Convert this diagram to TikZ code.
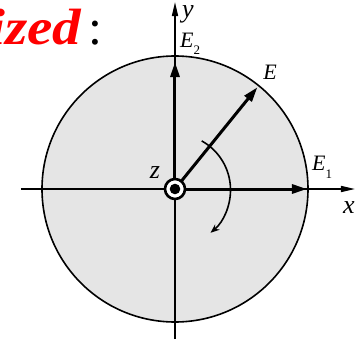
\documentclass[tikz,border=0pt]{standalone}
\usepackage{fontspec}
\setmainfont{Liberation Serif}
\usetikzlibrary{arrows.meta}
\begin{document}
\begin{tikzpicture}[x=1pt,y=-1pt,
  axis/.style={line width=1.6pt,-{Triangle[length=14pt,width=6pt]}},
  vec/.style={line width=3pt,-{Triangle[length=15pt,width=9pt]}},
  lbl/.style={inner sep=0pt,font=\fontsize{22}{22}\selectfont\itshape},
  lcl/.style={inner sep=0pt,font=\fontsize{26}{26}\selectfont\itshape}
]
\useasboundingbox (0,0) rectangle (360,341);
\coordinate (O) at (175,189);
\fill[black!10] (O) circle (133pt);
\draw[line width=1.6pt] (O) circle (133pt);
% axes
\coordinate (xl) at (21,189);
\coordinate (xr) at (355,189);
\coordinate (yb) at (175,339);
\coordinate (yt) at (175,2);
\draw[axis] (xl) -- (xr);
\draw[axis] (yb) -- (yt);
% vectors
\coordinate (E1tip) at (307,189);
\coordinate (E2tip) at (175,62);
\coordinate (Etip) at ([shift={(51:131pt)}]O);
\draw[vec] (O) -- (E1tip);
\draw[vec] (O) -- (E2tip);
\draw[vec] (O) -- (Etip);
% rotation arc
\coordinate (arcS) at ([shift={(61:55pt)}]O);
\draw[line width=1.6pt,-{Stealth[length=9pt,width=7pt]}] (arcS) arc[start angle=61,end angle=-50,radius=56pt];
% center symbol
\node[circle,draw,line width=2.6pt,fill=white,minimum size=20pt,inner sep=0pt] (zc) at (O) {};
\fill (zc.center) circle (5.3pt);
% labels
\node[lcl,anchor=base west] (ylab) at (182,17) {y};
\node[lcl] (xlab) at (349,208) {x};
\node[lcl] (zlab) at (155,173) {z};
\node[lbl,anchor=base west] (E2lab) at (180,47) {E\raisebox{-7pt}{\fontsize{13}{13}\selectfont\upshape 2}};
\node[lbl,anchor=base west] (E1lab) at (312,170) {E\raisebox{-8pt}{\fontsize{13}{13}\selectfont\upshape 1}};
\node[lbl] (Elab) at (270,72) {E};
% title
\node[anchor=base west,inner sep=0pt,text=red,font=\fontsize{51}{51}\selectfont\bfseries\itshape] (title) at (-11,44) {\scalebox{1.12}[1]{ized}};
\node[anchor=base west,inner sep=0pt,font=\fontsize{50}{50}\selectfont] (colon) at (88,44) {:};
\end{tikzpicture}
\end{document}
